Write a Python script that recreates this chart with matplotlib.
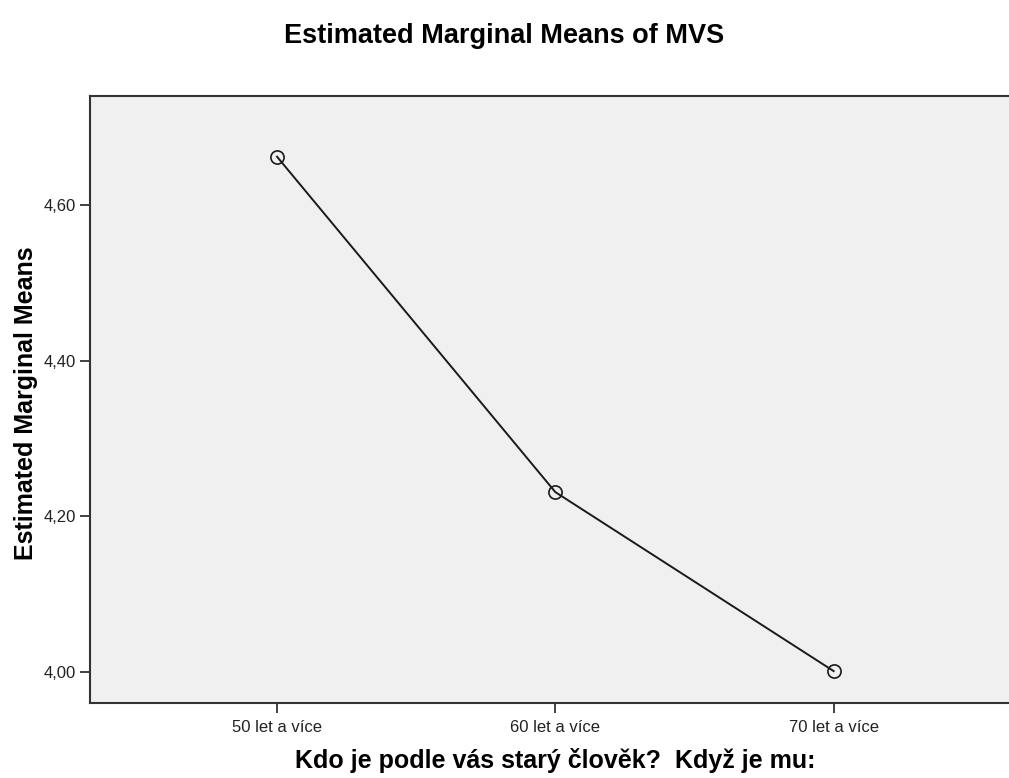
import numpy as np
import matplotlib.pyplot as plt

plt.rcParams['font.family'] = ['Liberation Sans', 'DejaVu Sans']

categories = ["50 let a více", "60 let a více", "70 let a více"]
means = [4.662, 4.231, 4.001]
yticks = [4.00, 4.20, 4.40, 4.60]

fig = plt.figure(figsize=(10.09, 7.78), dpi=100)
ax = fig.add_axes([0.0892, 0.0964, 0.9108, 0.7802])
ax.set_facecolor("#f0f0f0")

x = np.arange(1, len(categories) + 1)
ax.plot(x, means, color="#1a1a1a", linewidth=1.4, marker="o", markersize=9.5,
        markerfacecolor="none", markeredgecolor="#1a1a1a", markeredgewidth=1.2)

ax.set_xlim(0.328, 3.63)
ax.set_ylim(3.96, 4.74)
ax.set_xticks(x)
ax.set_xticklabels(categories)
ax.set_yticks(yticks)
ax.set_yticklabels([f"{v:.2f}".replace(".", ",") for v in yticks])
ax.tick_params(axis="both", length=7, width=1.3, color="#333333",
               labelsize=12, labelcolor="#222222")
ax.tick_params(axis="x", pad=5)
ax.tick_params(axis="y", pad=3)

for s in ["left", "bottom", "top"]:
    ax.spines[s].set_linewidth(1.5)
    ax.spines[s].set_color("#333333")
ax.spines["right"].set_visible(False)

ax.set_xlabel("Kdo je podle vás starý člověk?  Když je mu:", fontsize=18,
              fontweight="bold", va="baseline")
ax.xaxis.set_label_coords(0.5065, -0.1071)
ax.set_ylabel("Estimated Marginal Means", fontsize=18, fontweight="bold", va="baseline")
ax.yaxis.set_label_coords(-0.062, 0.494)
fig.text(0.5, 1 - 43 / 778, "Estimated Marginal Means of MVS", fontsize=19.5,
         fontweight="bold", ha="center", va="baseline")

fig.savefig("out.png", dpi=100)
